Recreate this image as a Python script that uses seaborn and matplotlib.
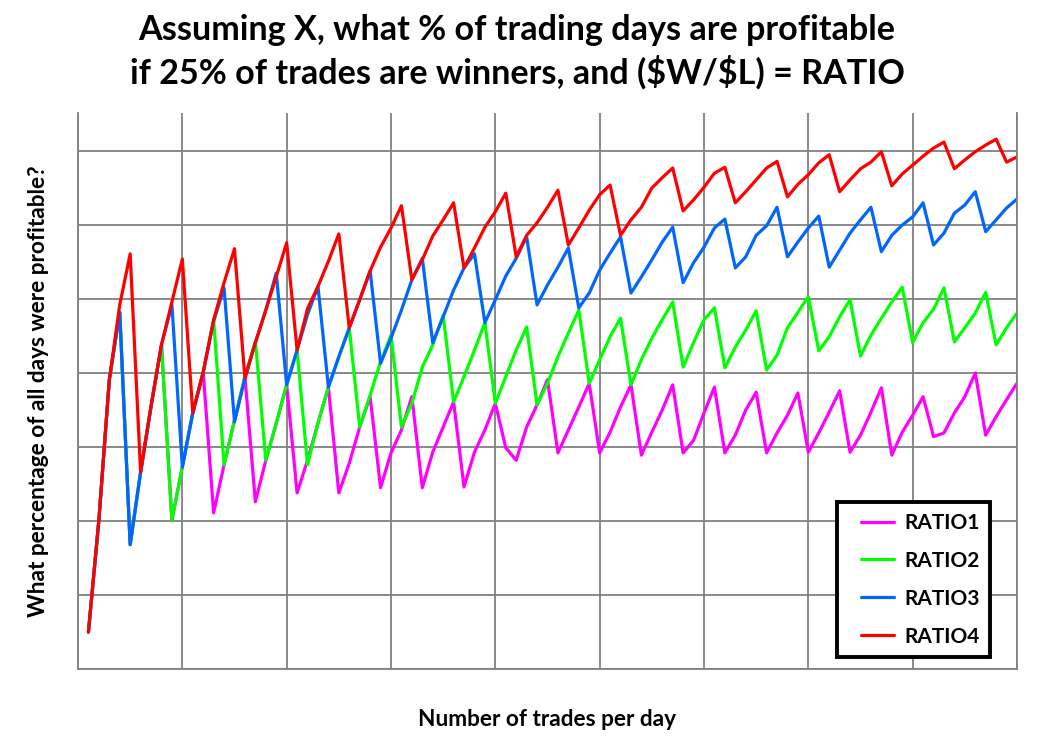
import matplotlib
matplotlib.use("Agg")
import matplotlib.pyplot as plt
from matplotlib.legend_handler import HandlerLine2D
from matplotlib.lines import Line2D
import seaborn as sns
import pandas as pd

trades = list(range(1, 91))

ratio1 = [25.0, 40.1, 59.05, 68.2, 36.8, 46.6, 55.5, 63.8, 40.1, 47.3,
          54.6, 60.1, 41.1, 47.6, 53.6, 59.5, 42.6, 48.2, 53.2, 58.4,
          43.8, 48.2, 53.2, 58.1, 43.8, 47.8, 52.7, 56.8, 44.5, 49.2,
          52.3, 56.8, 44.5, 49.3, 52.7, 56.1, 44.6, 49.3, 52.3, 55.9,
          49.9, 48.2, 52.7, 55.7, 59.1, 49.2, 52.3, 55.4, 58.6, 49.2,
          52.0, 55.4, 58.4, 48.9, 52.0, 55.0, 58.4, 49.2, 50.9, 54.6,
          58.1, 49.2, 51.6, 55.0, 57.4, 49.2, 51.9, 54.3, 57.3, 49.3,
          51.9, 54.7, 57.6, 49.3, 51.6, 54.7, 58.0, 48.9, 52.0, 54.3,
          56.8, 51.4, 51.9, 54.6, 56.8, 60.0, 51.6, 54.1, 56.4, 58.6]

ratio2 = [25.0, 40.1, 59.05, 68.2, 36.8, 46.6, 55.5, 63.8, 40.1, 47.3,
          54.6, 60.1, 67.2, 47.6, 53.6, 59.5, 64.3, 48.2, 53.2, 58.4,
          63.1, 47.6, 53.2, 58.1, 62.2, 66.1, 52.7, 57.0, 61.5, 65.1,
          52.7, 55.9, 60.8, 63.8, 67.8, 56.1, 59.5, 63.1, 66.8, 55.9,
          59.5, 63.1, 66.2, 55.7, 58.6, 62.2, 65.4, 68.5, 58.6, 61.8,
          64.9, 67.4, 58.4, 61.8, 64.7, 67.2, 69.6, 60.8, 64.1, 67.2,
          68.8, 60.7, 63.5, 65.8, 68.4, 60.4, 62.4, 66.1, 68.2, 70.3,
          63.0, 64.9, 67.6, 69.9, 62.3, 65.1, 67.4, 69.6, 71.6, 64.1,
          66.8, 68.6, 71.5, 64.2, 66.1, 68.1, 70.9, 63.8, 66.1, 68.1]

ratio3 = [25.0, 40.1, 59.05, 68.2, 36.8, 46.6, 55.5, 63.8, 69.2, 47.3,
          54.6, 60.1, 67.0, 71.5, 53.4, 59.3, 64.1, 68.5, 73.5, 58.4,
          63.1, 67.9, 71.7, 58.1, 62.2, 66.1, 69.9, 73.8, 61.3, 64.7,
          68.5, 72.6, 75.5, 64.1, 67.6, 71.2, 74.2, 76.1, 66.8, 69.9,
          73.1, 75.5, 78.4, 69.2, 71.9, 74.3, 76.9, 68.8, 70.8, 73.9,
          76.2, 78.4, 70.8, 73.0, 75.3, 77.7, 79.7, 72.2, 74.9, 77.0,
          79.6, 80.8, 74.2, 75.7, 78.6, 79.9, 82.4, 75.7, 77.7, 79.6,
          81.2, 74.3, 76.6, 78.9, 80.7, 82.4, 76.4, 78.6, 80.0, 81.1,
          83.0, 77.3, 78.9, 81.6, 82.7, 84.5, 79.1, 80.7, 82.3, 83.5]

ratio4 = [25.0, 40.1, 59.05, 69.2, 76.1, 46.6, 55.5, 63.8, 69.6, 75.4,
          54.6, 60.1, 67.2, 72.2, 76.8, 59.3, 64.1, 68.5, 73.0, 77.6,
          63.1, 68.7, 71.7, 75.1, 78.8, 66.1, 69.9, 73.8, 77.0, 79.6,
          82.6, 72.6, 75.3, 78.5, 80.7, 83.0, 74.2, 76.9, 79.7, 81.8,
          84.3, 75.7, 78.6, 80.3, 82.4, 84.7, 77.3, 79.6, 82.0, 84.1,
          85.4, 78.6, 80.7, 82.4, 85.0, 86.4, 87.7, 81.9, 83.4, 85.1,
          87.0, 87.8, 83.0, 84.5, 86.1, 87.7, 88.6, 83.8, 85.5, 86.8,
          88.4, 89.5, 84.5, 86.1, 87.6, 88.5, 89.9, 85.3, 86.9, 88.1,
          89.3, 90.4, 91.2, 87.6, 88.8, 89.9, 90.8, 91.6, 88.5, 89.2]

series_names = ["RATIO1", "RATIO2", "RATIO3", "RATIO4"]
series_colors = ["#FF00FF", "#00FF00", "#0066FF", "#FF0000"]

df = pd.DataFrame({
    "trades": trades * 4,
    "pct": ratio1 + ratio2 + ratio3 + ratio4,
    "series": sum([[s] * len(trades) for s in series_names], []),
})

sns.set_style("white")
plt.rcParams["font.family"] = ["Lato", "DejaVu Sans"]
plt.rcParams["text.color"] = "black"
plt.rcParams["axes.labelcolor"] = "black"

top_px, bot_px = 113, 669
fig = plt.figure(figsize=(10.39, 7.39), dpi=100)
ax = fig.add_axes([78 / 1039, 1 - bot_px / 739, (1017 - 78) / 1039, (bot_px - top_px) / 739])

sns.lineplot(data=df, x="trades", y="pct", hue="series", hue_order=series_names,
             palette=dict(zip(series_names, series_colors)), linewidth=2.3,
             ax=ax, legend=True)

ax.set_xlim(0, 90)
ax.set_ylim(20, 20 + (bot_px - top_px) / 7.4)
ax.set_xticks(range(0, 91, 10))
ax.set_yticks(range(20, 91, 10))
ax.tick_params(left=False, bottom=False, labelleft=False, labelbottom=False)
ax.grid(True, color="#808080", linewidth=1.3)
ax.set_axisbelow(True)
for name, sp in ax.spines.items():
    sp.set_color("#808080")
    sp.set_linewidth(1.3)
ax.spines["top"].set_visible(False)

ax.set_xlabel("Number of trades per day", fontsize=16.3, fontweight="bold",
              color="black", labelpad=29)
ax.set_ylabel("What percentage of all days were profitable?", fontsize=16.3,
              fontweight="bold", color="black", labelpad=21)

fig.text(517 / 1039, 1 - 30 / 739, "Assuming X, what % of trading days are profitable",
         ha="center", va="center", fontsize=24.6, fontweight="bold", color="black")
fig.text(517 / 1039, 1 - 72 / 739, "if 25% of trades are winners, and (\\$W/\\$L) = RATIO",
         ha="center", va="center", fontsize=24.6, fontweight="bold", color="black")

handles, labels = ax.get_legend_handles_labels()
leg = ax.legend(handles, labels, loc="lower right",
                bbox_to_anchor=(990 / 1039, 1 - 657 / 739),
                bbox_transform=fig.transFigure, fontsize=15, frameon=True,
                fancybox=False, framealpha=1, handlelength=2.24, handletextpad=0.48,
                labelspacing=0.86, borderpad=0.5, borderaxespad=0,
                handler_map={Line2D: HandlerLine2D(xpad=0.65)})
leg.get_frame().set_edgecolor("black")
leg.get_frame().set_facecolor("white")
leg.get_frame().set_linewidth(2.8)
for t in leg.get_texts():
    t.set_fontweight("bold")
    t.set_color("black")

fig.savefig("out.png", dpi=100)
